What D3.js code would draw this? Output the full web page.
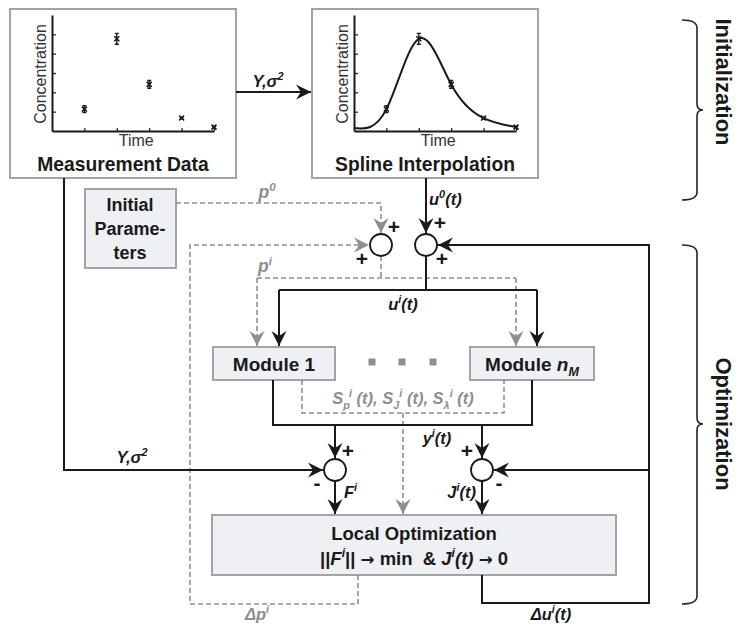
<!DOCTYPE html>
<html><head><meta charset="utf-8">
<script src="https://cdn.jsdelivr.net/npm/d3@7"></script>
<style>
body{margin:0;background:#fff}
svg{display:block}
text{font-family:"Liberation Sans",Arial,Helvetica,sans-serif;white-space:pre}
.arr{font-family:"DejaVu Sans",sans-serif}
</style>
</head><body>
<svg id="c" width="741" height="624"></svg>
<script>
// ---- data ----
const timePoints    = [1, 2, 3, 4, 5];
const concentration = [1.13, 4.77, 2.41, 0.67, 0.2];
const concError     = [0.18, 0.28, 0.2, 0.05, 0.05];
const splineTime    = [0, 1, 2, 3, 4, 5];
const splineConc    = [0.15, 1.13, 4.77, 2.41, 0.67, 0.2];
const xTickValues   = [1, 2, 3, 4, 5];
const yTickValues   = [1, 2, 3, 4, 5];
const sectionLabels = ["Initialization", "Optimization"];

const svg = d3.select("#c");
const BLACK = "#1a1a1a", GREY = "#8e8e8e", BOXS = "#a3a3a3", FILL = "#eef0f4";

// markers
const defs = svg.append("defs");
[["ab", BLACK], ["ag", GREY]].forEach(([id, col]) => {
  defs.append("marker").attr("id", id).attr("markerUnits", "userSpaceOnUse")
    .attr("viewBox", "-16 -8 17 16").attr("refX", 0).attr("refY", 0)
    .attr("markerWidth", 17).attr("markerHeight", 16).attr("orient", "auto")
    .append("path").attr("d", "M0,0 L-15,-7.5 L-10,0 L-15,7.5 Z").attr("fill", col);
});

const lineGen = d3.line();
function path(pts, o = {}) {
  const p = svg.append("path").attr("d", lineGen(pts)).attr("fill", "none")
    .attr("stroke", o.dash ? GREY : BLACK).attr("stroke-width", o.dash ? 1.6 : 2);
  if (o.dash) p.attr("stroke-dasharray", "5,3");
  if (o.arrow) p.attr("marker-end", o.dash ? "url(#ag)" : "url(#ab)");
  return p;
}
function box(x, y, w, h, fill) {
  svg.append("rect").attr("x", x).attr("y", y).attr("width", w).attr("height", h)
    .attr("fill", fill).attr("stroke", BOXS).attr("stroke-width", 2);
}
function rich(x, y, segs, o) {
  const t = svg.append("text").attr("x", x).attr("y", y)
    .attr("text-anchor", o.anchor || "middle").attr("font-size", o.size)
    .attr("font-weight", o.weight || "bold").attr("fill", o.fill || BLACK);
  if (o.italic) t.attr("font-style", "italic");
  if (o.rotate) t.attr("transform", `rotate(${o.rotate},${x},${y})`);
  let cur = 0;
  segs.forEach(s => {
    const [txt, kind, it, dx] = Array.isArray(s) ? s : [s];
    const target = kind === "sup" ? -o.size * 0.42 : kind === "sub" ? o.size * 0.28 : 0;
    const ts = t.append("tspan").attr("dy", target - cur).text(txt);
    cur = target;
    if (kind === "sup" || kind === "sub") ts.attr("font-size", o.size * 0.66);
    if (kind === "arrow") ts.attr("class", "arr").attr("font-size", o.size * 0.9);
    if (it === true) ts.attr("font-style", "italic");
    if (dx) ts.attr("dx", dx);
  });
  return t;
}
function sumCircle(cx, cy) {
  svg.append("circle").attr("cx", cx).attr("cy", cy).attr("r", 11)
    .attr("fill", "#fff").attr("stroke", BLACK).attr("stroke-width", 1.8);
}

// ---- top boxes ----
box(10, 9, 226, 169, "#fff");
box(312, 9, 226, 169, "#fff");

function miniChart(x0, withSpline) {
  const x = d3.scaleLinear().domain([0, 5]).range([x0, x0 + 162]);
  const y = d3.scaleLinear().domain([0, 6]).range([131, 15]);
  const g = svg.append("g");
  const ya = g.append("g").attr("transform", `translate(${x0},0)`)
    .call(d3.axisLeft(y).tickValues(yTickValues).tickSize(-4).tickSizeOuter(0).tickFormat(""));
  const xa = g.append("g").attr("transform", `translate(0,131)`)
    .call(d3.axisBottom(x).tickValues(xTickValues).tickSize(-3).tickSizeOuter(0).tickFormat(""));
  [ya, xa].forEach(a => {
    a.select(".domain").attr("stroke", BLACK).attr("stroke-width", 2);
    a.selectAll(".tick line").attr("stroke", BLACK).attr("stroke-width", 1.2);
  });
  if (withSpline) {
    g.append("path").datum(splineTime.map((t, i) => [t, splineConc[i]]))
      .attr("d", d3.line().x(d => x(d[0])).y(d => y(d[1])).curve(d3.curveNatural))
      .attr("fill", "none").attr("stroke", BLACK).attr("stroke-width", 2);
  }
  timePoints.forEach((t, i) => {
    const cx = x(t), cy = y(concentration[i]);
    const y1 = y(concentration[i] + concError[i]), y2 = y(concentration[i] - concError[i]);
    g.append("path").attr("d", `M${cx},${y1}V${y2}M${cx - 2},${y1}H${cx + 2}M${cx - 2},${y2}H${cx + 2}`)
      .attr("stroke", BLACK).attr("stroke-width", 1.4).attr("fill", "none");
    g.append("path").attr("d", `M${cx - 2.5},${cy - 2.5}L${cx + 2.5},${cy + 2.5}M${cx - 2.5},${cy + 2.5}L${cx + 2.5},${cy - 2.5}`)
      .attr("stroke", BLACK).attr("stroke-width", 1.6);
  });
  g.append("text").attr("x", x(2.6)).attr("y", 146).attr("text-anchor", "middle")
    .attr("font-size", 16).attr("fill", "#333").text("Time");
  g.append("text").attr("transform", `translate(${x0 - 6},74) rotate(-90)`)
    .attr("text-anchor", "middle").attr("font-size", 16).attr("fill", "#333").text("Concentration");
}
miniChart(52, false);
miniChart(354, true);

rich(123, 171, ["Measurement Data"], { size: 19.3 });
rich(425, 171, ["Spline Interpolation"], { size: 19.3 });

// ---- other boxes ----
box(85, 189, 91, 79, FILL);
box(213, 347, 122, 33, FILL);
box(470, 347, 124, 33, FILL);
box(212, 515, 404, 60, FILL);

rich(130, 211, ["Initial"], { size: 18 });
rich(130, 235, ["Parame-"], { size: 18 });
rich(130, 259, ["ters"], { size: 18 });
rich(274, 371, ["Module 1"], { size: 19 });
rich(532, 371, ["Module ", ["n", null, true], ["M", "sub", true]], { size: 19 });
rich(414, 540, ["Local Optimization"], { size: 18.5 });
rich(414, 565, ["||", ["F", null, true], ["i", "sup", true], "|| ", ["\u2192", "arrow"], " min  & ", ["J", null, true], ["i", "sup", true], ["(t)", null, true], " ", ["\u2192", "arrow"], " 0"], { size: 18.5 });

// grey dots
[372, 402, 433].forEach(cx => svg.append("rect").attr("x", cx - 3.5).attr("y", 358.5)
  .attr("width", 7).attr("height", 7).attr("fill", GREY));

// ---- dashed parameter paths ----
path([[176, 203], [381, 203], [381, 233]], { dash: true, arrow: true });
path([[358, 575], [358, 604], [190, 604], [190, 245], [369, 245]], { dash: true, arrow: true });
path([[381, 256], [381, 278]], { dash: true });
path([[257, 278], [516, 278]], { dash: true });
path([[257, 278], [257, 346]], { dash: true, arrow: true });
path([[516, 278], [516, 346]], { dash: true, arrow: true });
path([[302, 380], [302, 413], [504, 413], [504, 380]], { dash: true });
path([[403, 413], [403, 514]], { dash: true, arrow: true });

// ---- solid signal paths ----
path([[236, 92], [311, 92]], { arrow: true });
path([[426, 178], [426, 233]], { arrow: true });
path([[426, 256], [426, 290]]);
path([[279, 290], [537, 290]]);
path([[279, 290], [279, 346]], { arrow: true });
path([[537, 290], [537, 346]], { arrow: true });
path([[273, 380], [273, 425], [532, 425], [532, 380]]);
path([[335, 425], [335, 458]], { arrow: true });
path([[482, 425], [482, 458]], { arrow: true });
path([[64, 178], [64, 470], [323, 470]], { arrow: true });
path([[335, 481], [335, 514]], { arrow: true });
path([[482, 481], [482, 514]], { arrow: true });
path([[482, 575], [482, 603], [649, 603], [649, 245], [438, 245]], { arrow: true });
path([[649, 470], [494, 470]], { arrow: true });

sumCircle(381, 245); sumCircle(426, 245); sumCircle(335, 470); sumCircle(482, 470);

// signs
const sign = (x, y, s) => rich(x, y, [s], { size: 21 });
sign(394, 234, "+"); sign(362, 266, "+");
sign(440, 230, "+"); sign(442, 266, "+");
sign(348, 458, "+"); sign(317, 490, "-");
sign(467, 458, "+"); sign(499, 490, "-");

// ---- signal labels ----
rich(268, 87, ["Y,", "\u03c3", ["2", "sup"]], { size: 16.5, italic: true });
rich(132, 463, ["Y,", "\u03c3", ["2", "sup"]], { size: 16.5, italic: true });
rich(429, 205, ["u", ["0", "sup"], "(t)"], { size: 16.5, italic: true, anchor: "start" });
rich(267, 198, ["p", ["0", "sup"]], { size: 17.5, italic: true, fill: GREY });
rich(265, 272, ["p", ["i", "sup"]], { size: 17.5, italic: true, fill: GREY });
rich(403, 310, ["u", ["i", "sup"], "(t)"], { size: 16.5, italic: true });
rich(403, 404, ["S", ["p", "sub"], ["i", "sup", false, -1], " (t), S", ["J", "sub"], ["i", "sup"], " (t), S", ["\u03bb", "sub"], ["i", "sup"], " (t)"], { size: 16.5, italic: true, fill: GREY });
rich(437, 444, ["y", ["i", "sup"], "(t)"], { size: 16.5, italic: true });
rich(344, 498, ["F", ["i", "sup"]], { size: 16.5, italic: true, anchor: "start" });
rich(476, 498, ["J", ["i", "sup"], "(t)"], { size: 16.5, italic: true, anchor: "end" });
rich(257, 620, ["\u0394p", ["i", "sup"]], { size: 16.5, italic: true, fill: GREY });
rich(551, 620, ["\u0394u", ["i", "sup"], "(t)"], { size: 16.5, italic: true });

// ---- section braces ----
function brace(x, y0, y1, cy) {
  const xs = x + 15, xc = x + 21;
  svg.append("path").attr("d",
    `M${x},${y0} Q${xs},${y0} ${xs},${y0 + 8} L${xs},${cy - 6} Q${xs},${cy} ${xc},${cy} ` +
    `Q${xs},${cy} ${xs},${cy + 6} L${xs},${y1 - 8} Q${xs},${y1} ${x},${y1}`)
    .attr("fill", "none").attr("stroke", "#222").attr("stroke-width", 1.6);
}
brace(682, 20, 200, 110);
brace(682, 245, 604, 424);
rich(716, 82, [sectionLabels[0]], { size: 22, rotate: 90 });
rich(716, 424, [sectionLabels[1]], { size: 22, rotate: 90 });
</script>
</body></html>
